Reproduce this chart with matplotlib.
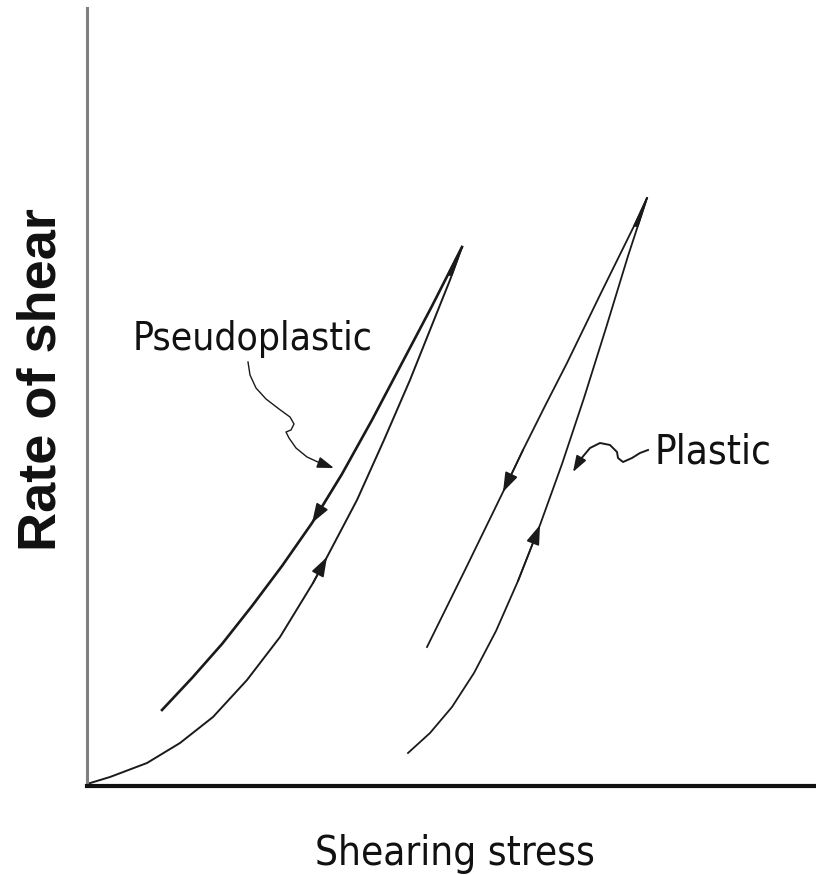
import matplotlib
matplotlib.use("Agg")
import matplotlib.pyplot as plt
import numpy as np

plt.rcParams['font.family'] = ['DejaVu Sans']
plt.rcParams['font.stretch'] = 'condensed'

# curves (x = shearing stress, y = rate of shear), arbitrary units
pseudo_up_x = [0, 23, 60, 93, 126, 160, 193, 226, 240, 270, 297, 323, 363, 375]
pseudo_up_y = [2, 9, 23, 43, 69, 106, 149, 203, 229, 286, 346, 406, 506, 539]
pseudo_down_x = [375, 345, 315, 285, 255, 225, 195, 165, 135, 105, 75]
pseudo_down_y = [539, 480, 423, 366, 312, 263, 220, 180, 142, 108, 76]
plastic_up_x = [321, 343, 365, 387, 409, 431, 453, 475, 497, 519, 541, 560]
plastic_up_y = [33, 53, 79, 113, 155, 205, 261, 322, 388, 458, 530, 588]
plastic_down_x = [560, 550, 513, 480, 458, 436, 416, 378, 340]
plastic_down_y = [588, 566, 491, 423, 380, 336, 294, 216, 139]

# squiggly label pointers
pseudo_ptr_x = [161, 163, 169, 179, 192, 203, 207, 204, 199, 202, 209, 220, 233, 247]
pseudo_ptr_y = [424, 411, 398, 387, 377, 369, 362, 356, 354, 348, 338, 329, 323, 318]
plastic_ptr_x = [561, 553, 545, 536, 531, 530, 523, 513, 503, 493, 486]
plastic_ptr_y = [336, 333, 328, 324, 328, 334, 341, 343, 338, 326, 314]

fig = plt.figure(figsize=(8.16, 8.75), dpi=100)
ax = fig.add_axes([87/816, 89/875, 729/816, 778/875])
ax.set_xlim(0, 729)
ax.set_ylim(0, 778)
ax.set_xticks([])
ax.set_yticks([])
ax.spines['top'].set_visible(False)
ax.spines['right'].set_visible(False)
ax.spines['left'].set_color('#808080')
ax.spines['left'].set_linewidth(2.2)
ax.spines['bottom'].set_color('#111111')
ax.spines['bottom'].set_linewidth(3)

lc = '#1a1a1a'
ax.plot(pseudo_up_x, pseudo_up_y, color=lc, lw=1.4)
ax.plot(pseudo_down_x, pseudo_down_y, color=lc, lw=1.9)
ax.plot(plastic_up_x, plastic_up_y, color=lc, lw=1.3)
ax.plot(plastic_down_x, plastic_down_y, color=lc, lw=1.3)

# sharp tips where the up and down branches meet
for ux, uy, dx, dy in [(pseudo_up_x, pseudo_up_y, pseudo_down_x, pseudo_down_y),
                       (plastic_up_x, plastic_up_y, plastic_down_x, plastic_down_y)]:
    yb = uy[-1] - 28
    xu = np.interp(yb, uy, ux)
    xd = np.interp(yb, dy[::-1], dx[::-1])
    ax.fill([ux[-1], xd, xu], [uy[-1], yb, yb], color=lc, lw=1.2, ec=lc)

def arrow_on(xs, ys, i, ms=17):
    ax.annotate('', xy=(xs[i], ys[i]), xytext=(xs[i-1], ys[i-1]),
                arrowprops=dict(arrowstyle='-|>,head_length=0.7,head_width=0.24',
                                color=lc, lw=1.2, shrinkA=0, shrinkB=0, mutation_scale=ms))

arrow_on(pseudo_up_x, pseudo_up_y, 8)
arrow_on(pseudo_down_x, pseudo_down_y, 5)
arrow_on(plastic_up_x, plastic_up_y, 6)
arrow_on(plastic_down_x, plastic_down_y, 6)

ax.plot(pseudo_ptr_x[:-1], pseudo_ptr_y[:-1], color=lc, lw=1.0)
arrow_on(pseudo_ptr_x, pseudo_ptr_y, len(pseudo_ptr_x) - 1, 14)
ax.plot(plastic_ptr_x[:-1], plastic_ptr_y[:-1], color=lc, lw=1.4)
arrow_on(plastic_ptr_x, plastic_ptr_y, len(plastic_ptr_x) - 1, 14)

ax.text(166, 436, 'Pseudoplastic', ha='center', va='baseline', fontsize=28, color='#111111')
ax.text(568, 323, 'Plastic', ha='left', va='baseline', fontsize=29, color='#111111')

fig.text(455/816, 1 - 865/875, 'Shearing stress', ha='center', va='baseline', fontsize=29, color='#111111')
fig.text(42/816, 1 - 380/875, 'Rate of shear', rotation=90, ha='center', va='center',
         fontsize=39, fontweight='bold', fontstretch='normal',
         family=['Liberation Sans', 'DejaVu Sans'], color='#111111')

fig.savefig('out.png', dpi=100, facecolor='white')
